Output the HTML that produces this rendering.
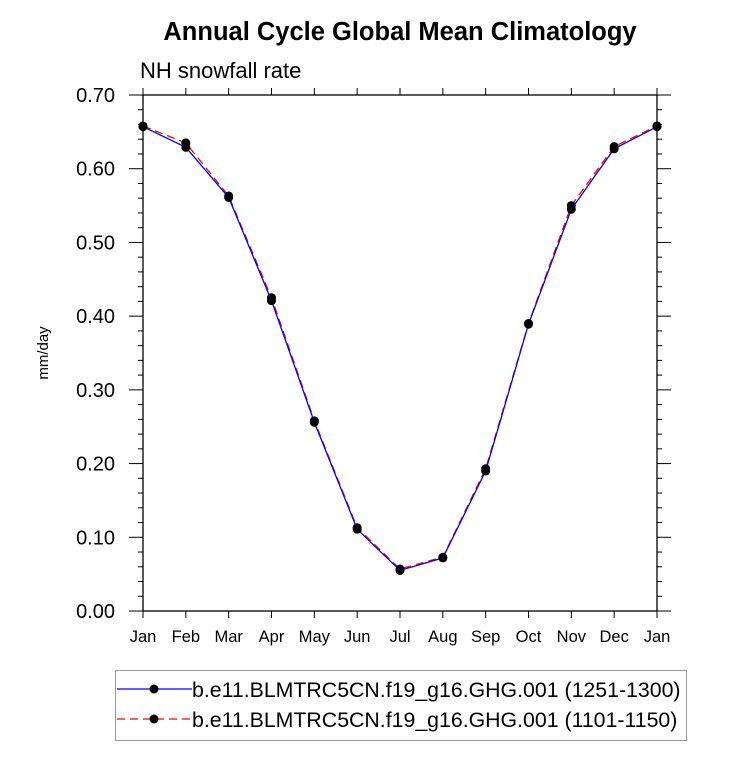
<!DOCTYPE html>
<html><head><meta charset="utf-8"><style>
body{margin:0;background:#fff;font-family:"Liberation Sans",sans-serif;}
svg text{font-family:"Liberation Sans",sans-serif;}
</style></head><body>
<svg id="chart" width="733" height="760" xmlns="http://www.w3.org/2000/svg">
<text x="400" y="40" font-size="25.5" font-weight="bold" text-anchor="middle">Annual Cycle Global Mean Climatology</text>
<text x="140" y="78" font-size="22">NH snowfall rate</text>
<text transform="translate(48,353) rotate(-90)" font-size="15" text-anchor="middle">mm/day</text>
<g id="axes"></g>
<g id="series"></g>
<g>
<rect x="115.5" y="670.5" width="571" height="70" fill="#fff" stroke="#999" stroke-width="1"/>
<line x1="117" y1="689" x2="192" y2="689" stroke="#0000ff" stroke-width="1.3"/>
<circle cx="154" cy="689" r="4.5" fill="#000"/>
<text x="192" y="697" font-size="21.3">b.e11.BLMTRC5CN.f19_g16.GHG.001 (1251-1300)</text>
<line x1="117" y1="719" x2="192" y2="719" stroke="#ff0000" stroke-width="1.3" stroke-dasharray="8,5"/>
<circle cx="154" cy="719" r="4.5" fill="#000"/>
<text x="192" y="727" font-size="21.3">b.e11.BLMTRC5CN.f19_g16.GHG.001 (1101-1150)</text>
</g>
</svg>
<script>
const months=["Jan","Feb","Mar","Apr","May","Jun","Jul","Aug","Sep","Oct","Nov","Dec","Jan"];
const yTicks=[0,0.1,0.2,0.3,0.4,0.5,0.6,0.7];
const yTickLabels=["0.00","0.10","0.20","0.30","0.40","0.50","0.60","0.70"];
const series1251=[0.657,0.629,0.561,0.421,0.256,0.111,0.055,0.072,0.190,0.389,0.545,0.627,0.657];
const series1101=[0.658,0.635,0.563,0.425,0.258,0.113,0.057,0.073,0.193,0.390,0.550,0.630,0.658];
const X0=143,X1=657,Y0=611,Y1=95;
const xs=i=>X0+(X1-X0)*i/(months.length-1);
const ys=v=>Y0-(Y0-Y1)*v/0.7;
const NS="http://www.w3.org/2000/svg";
function mk(t,a,p){const e=document.createElementNS(NS,t);for(const k in a)e.setAttribute(k,a[k]);p.appendChild(e);return e;}
const ax=document.getElementById('axes');
const frame=mk('rect',{x:X0,y:Y1,width:X1-X0,height:Y0-Y1,fill:'none',stroke:'#000','stroke-width':1.3},ax);


months.forEach((m,i)=>{const x=xs(i);
mk('line',{x1:x,y1:Y0,x2:x,y2:Y0+7,stroke:'#000'},ax);
mk('line',{x1:x,y1:Y1,x2:x,y2:Y1-7,stroke:'#000'},ax);
const t=mk('text',{x:x,y:Y0+31,'font-size':16.5,'text-anchor':'middle'},ax);t.textContent=m;

});
for(let v=0;v<=0.7001;v+=0.02){const y=ys(v);const major=Math.abs(v*10-Math.round(v*10))<1e-6;const L=major?14:5;
mk('line',{x1:X0,y1:y,x2:X0-L,y2:y,stroke:'#000'},ax);mk('line',{x1:X1,y1:y,x2:X1+L,y2:y,stroke:'#000'},ax);}
yTicks.forEach((v,i)=>{const t=mk('text',{x:X0-28,y:ys(v)+7,'font-size':20,'text-anchor':'end'},ax);t.textContent=yTickLabels[i];

});
const sg=document.getElementById('series');
function draw(data,color,dash,name){
const pts=data.map((v,i)=>xs(i)+','+ys(v)).join(' ');
const pl=mk('polyline',{points:pts,fill:'none',stroke:color,'stroke-width':1.3,'stroke-dasharray':dash},sg);


data.forEach((v,i)=>{const c=mk('circle',{cx:xs(i),cy:ys(v),r:4.5,fill:'#000'},sg);

});}
draw(series1101,'#ff0000','8,5','series-1101-1150');
draw(series1251,'#0000ff','none','series-1251-1300');
</script>
</body></html>
